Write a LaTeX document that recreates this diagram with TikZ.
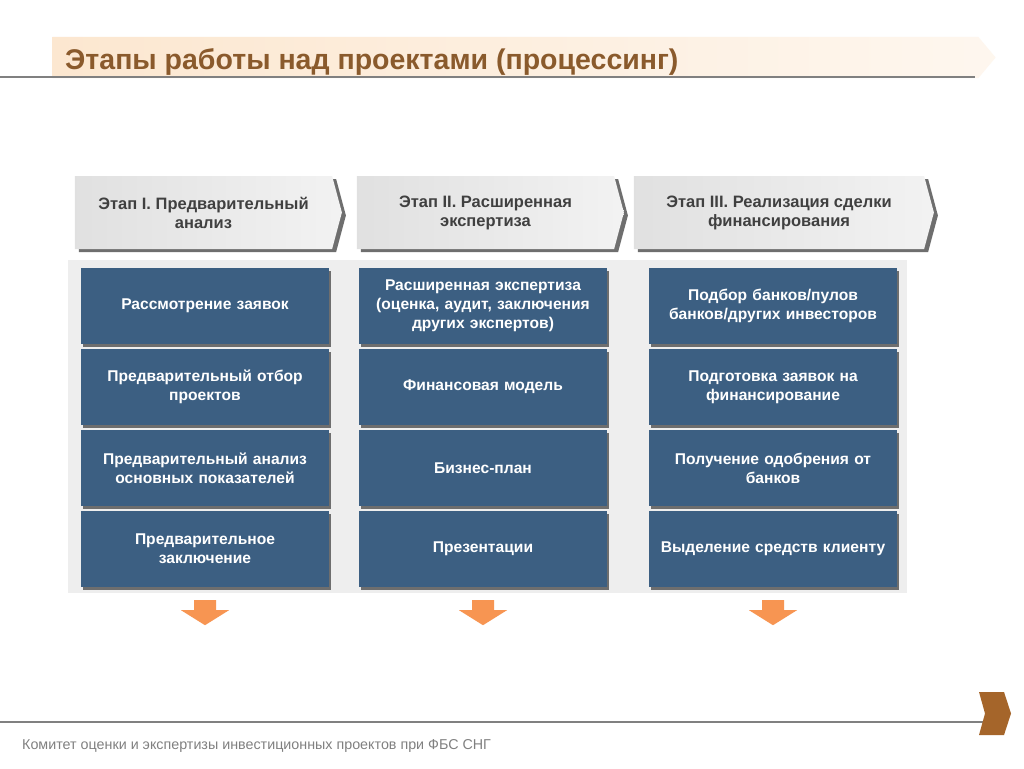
\documentclass[tikz,border=0pt]{standalone}
\usepackage{fontspec}
\setmainfont{Liberation Sans}
\usetikzlibrary{shapes.symbols,shadows}

\definecolor{boxblue}{HTML}{3C5F82}
\definecolor{boxshade}{HTML}{6E6E6E}
\definecolor{titlebrown}{HTML}{8A5A2C}
\definecolor{peach}{HTML}{FCE7D0}
\definecolor{panelgray}{HTML}{EEEEEE}
\definecolor{arroworange}{HTML}{F79552}
\definecolor{cornerbrown}{HTML}{A5652A}
\definecolor{headtext}{HTML}{404040}

\begin{document}
\begin{tikzpicture}[x=1pt,y=-1pt]
        \tikzset{
          stage/.style={shape=signal, signal to=east, signal from=nowhere,
            signal pointer angle=150, minimum width=267, minimum height=73,
            inner sep=0pt, left color=black!12, right color=black!5,
            drop shadow={shadow xshift=4pt, shadow yshift=-3pt, opacity=1, fill=boxshade},
            text=headtext, align=center, font=\bfseries\fontsize{16.5}{19}\selectfont},
          task/.style={rectangle, fill=boxblue, minimum width=248, minimum height=76,
            inner sep=0pt, text width=244, align=center, text=white,
            drop shadow={shadow xshift=2pt, shadow yshift=-3pt, opacity=1, fill=boxshade},
            font=\bfseries\fontsize{15.6}{19}\selectfont},
          downarrow/.style={fill=arroworange}
        }
        \fill [white] (0,0) rectangle (1024,768);
        \useasboundingbox (0,0) rectangle (1024,768);
        % title bar
        \node [shape=signal, signal to=east, signal from=nowhere, signal pointer angle=100,
          minimum width=943, minimum height=41, inner sep=0pt,
          left color=peach, right color=peach!35] (banner) at (515.5,57.5) {};
        \draw [black!50, line width=1.5] (0,77) -- (975,77);
        \node [anchor=base west, inner sep=0pt, text=titlebrown, font=\bfseries\fontsize{28.5}{32}\selectfont]
          (title) at (65,69) {Этапы работы над проектами (процессинг)};
        % stage headers
        \node [stage] (st1) at (203.5,212.5) {Этап I. Предварительный\\анализ};
        \node [stage] (st2) at (485.5,212.5) {Этап II. Расширенная\\экспертиза};
        \node [stage, minimum width=300] (st3) at (779,212.5) {Этап III. Реализация сделки\\финансирования};
        % panel
        \fill [panelgray] (68,260) rectangle (907,593);
        % column 1
        \node [task] (a1) at (205,306) {Рассмотрение заявок};
        \node [task] (a2) at (205,387) {Предварительный отбор\\проектов};
        \node [task] (a3) at (205,468) {Предварительный анализ\\основных показателей};
        \node [task] (a4) at (205,549) {Предварительное\\заключение};
        % column 2
        \node [task] (b1) at (483,306) {Расширенная экспертиза\\(оценка, аудит, заключения\\других экспертов)};
        \node [task] (b2) at (483,387) {Финансовая модель};
        \node [task] (b3) at (483,468) {Бизнес-план};
        \node [task] (b4) at (483,549) {Презентации};
        % column 3
        \node [task] (c1) at (773,306) {Подбор банков/пулов\\банков/других инвесторов};
        \node [task] (c2) at (773,387) {Подготовка заявок на\\финансирование};
        \node [task] (c3) at (773,468) {Получение одобрения от\\банков};
        \node [task] (c4) at (773,549) {Выделение средств клиенту};
        % arrows down
        \foreach \col in {a4,b4,c4}
          \fill [downarrow] ([xshift=-11pt,yshift=-13pt]\col.south) -- ++(22,0) -- ++(0,10)
            -- ++(13,0) -- ++(-24,15) -- ++(-24,-15) -- ++(13,0) -- cycle;
        % footer
        \draw [black!50, line width=1.5] (0,722) -- (985,722);
        \fill [cornerbrown] (979,692) -- (1004,692) -- (1011,713.5) -- (1004,735)
          -- (979,735) -- (985,713.5) -- cycle;
        \node [anchor=base west, inner sep=0pt, text=black!50, font=\fontsize{14.3}{16}\selectfont]
          (footer) at (22,749) {Комитет оценки и экспертизы инвестиционных проектов при ФБС СНГ};
      \end{tikzpicture}
\end{document}
